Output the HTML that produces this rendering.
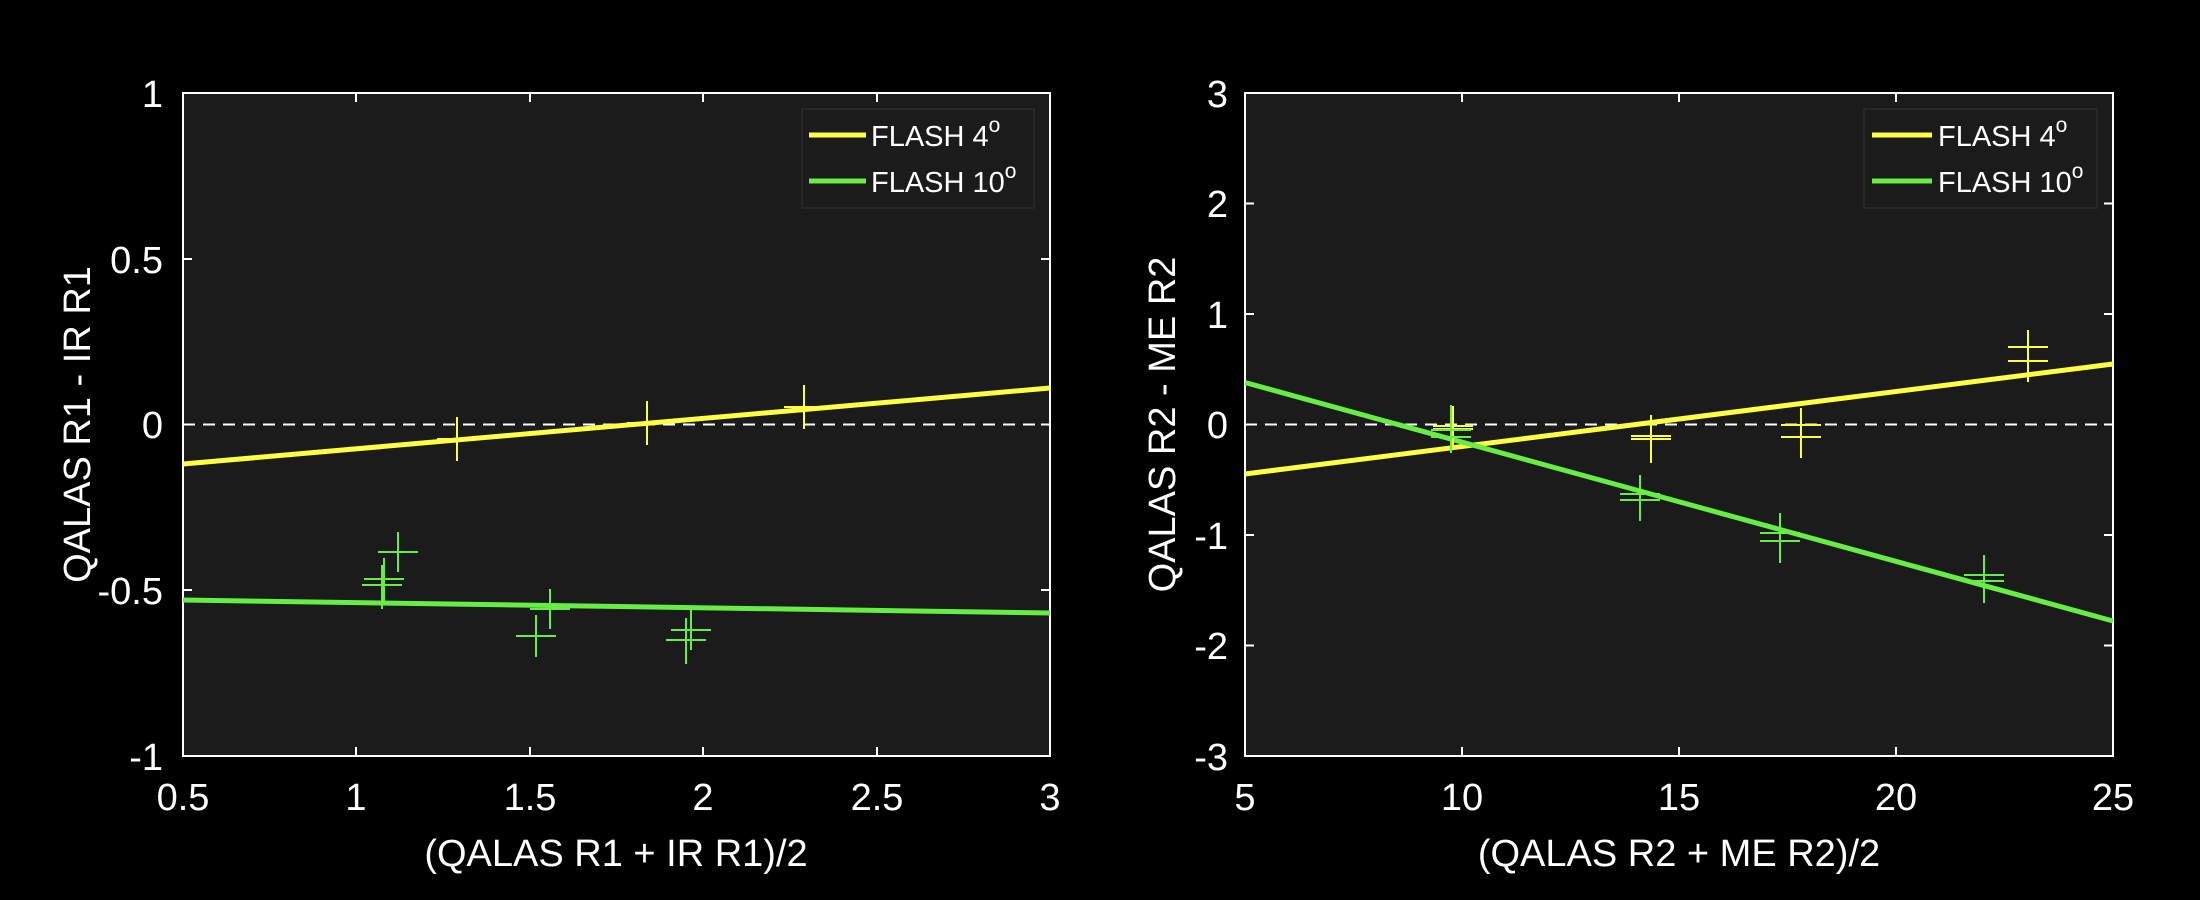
<!DOCTYPE html>
<html><head><meta charset="utf-8"><style>
html,body{margin:0;padding:0;background:#000;}
svg{display:block;}
text{font-family:"Liberation Sans",sans-serif;fill:#fff;}
</style></head><body>
<svg width="2200" height="900" viewBox="0 0 2200 900" xmlns="http://www.w3.org/2000/svg">
<rect width="2200" height="900" fill="#000"/>
<!-- LEFT AXES -->
<rect x="183" y="93" width="867" height="663" fill="#1b1b1b" stroke="#fff" stroke-width="2"/>
<g stroke="#fff" stroke-width="2">
<line x1="356" y1="756" x2="356" y2="747"/><line x1="356" y1="93" x2="356" y2="102"/>
<line x1="530" y1="756" x2="530" y2="747"/><line x1="530" y1="93" x2="530" y2="102"/>
<line x1="703" y1="756" x2="703" y2="747"/><line x1="703" y1="93" x2="703" y2="102"/>
<line x1="877" y1="756" x2="877" y2="747"/><line x1="877" y1="93" x2="877" y2="102"/>
<line x1="183" y1="259" x2="192" y2="259"/><line x1="1050" y1="259" x2="1041" y2="259"/>
<line x1="183" y1="424.5" x2="192" y2="424.5"/><line x1="1050" y1="424.5" x2="1041" y2="424.5"/>
<line x1="183" y1="590" x2="192" y2="590"/><line x1="1050" y1="590" x2="1041" y2="590"/>
</g>
<line x1="183" y1="424.5" x2="1050" y2="424.5" stroke="#fff" stroke-width="2" stroke-dasharray="12,8"/>
<line x1="183" y1="464" x2="1050" y2="388" stroke="#ffff44" stroke-width="5"/>
<line x1="183" y1="600" x2="1050" y2="613" stroke="#66ee44" stroke-width="5"/>
<g stroke="#ffff44" stroke-width="2">
<path d="M437 439h40M457 417v44M627 423h40M647 401v44M784 407h40M804 385v44"/>
</g>
<g stroke="#66ee44" stroke-width="2">
<path d="M378 552h40M398 532v40M364 579h40M384 558v44M362 585h40M382 565v44M530 609h40M550 589v40M516 636h40M536 615v42M671 630h40M691 610v40M666 640h40M686 618v46"/>
</g>
<g font-size="38" text-anchor="end">
<text x="163" y="107">1</text>
<text x="163" y="273">0.5</text>
<text x="163" y="438">0</text>
<text x="163" y="604">-0.5</text>
<text x="163" y="770">-1</text>
</g>
<g font-size="38" text-anchor="middle">
<text x="183" y="810">0.5</text><text x="356" y="810">1</text><text x="530" y="810">1.5</text>
<text x="703" y="810">2</text><text x="877" y="810">2.5</text><text x="1050" y="810">3</text>
</g>
<text x="616" y="866" font-size="38" text-anchor="middle">(QALAS R1 + IR R1)/2</text>
<text transform="translate(90,424.5) rotate(-90)" font-size="38" text-anchor="middle">QALAS R1 - IR R1</text>
<rect x="802" y="109" width="232" height="99" fill="#1b1b1b" stroke="#333" stroke-width="1"/>
<line x1="809" y1="135" x2="866" y2="135" stroke="#ffff44" stroke-width="5"/>
<line x1="809" y1="181" x2="866" y2="181" stroke="#66ee44" stroke-width="5"/>
<text x="871" y="146" font-size="29">FLASH 4<tspan dy="-14" font-size="21">o</tspan></text>
<text x="871" y="192" font-size="29">FLASH 10<tspan dy="-14" font-size="21">o</tspan></text>

<!-- RIGHT AXES -->
<rect x="1245" y="93" width="868" height="663" fill="#1b1b1b" stroke="#fff" stroke-width="2"/>
<g stroke="#fff" stroke-width="2">
<line x1="1462" y1="756" x2="1462" y2="747"/><line x1="1462" y1="93" x2="1462" y2="102"/>
<line x1="1679" y1="756" x2="1679" y2="747"/><line x1="1679" y1="93" x2="1679" y2="102"/>
<line x1="1896" y1="756" x2="1896" y2="747"/><line x1="1896" y1="93" x2="1896" y2="102"/>
<line x1="1245" y1="203.5" x2="1254" y2="203.5"/><line x1="2113" y1="203.5" x2="2104" y2="203.5"/>
<line x1="1245" y1="314" x2="1254" y2="314"/><line x1="2113" y1="314" x2="2104" y2="314"/>
<line x1="1245" y1="424.5" x2="1254" y2="424.5"/><line x1="2113" y1="424.5" x2="2104" y2="424.5"/>
<line x1="1245" y1="535" x2="1254" y2="535"/><line x1="2113" y1="535" x2="2104" y2="535"/>
<line x1="1245" y1="645.5" x2="1254" y2="645.5"/><line x1="2113" y1="645.5" x2="2104" y2="645.5"/>
</g>
<line x1="1245" y1="424.5" x2="2113" y2="424.5" stroke="#fff" stroke-width="2" stroke-dasharray="12,8"/>
<line x1="1245" y1="474" x2="2113" y2="364" stroke="#ffff44" stroke-width="5"/>
<line x1="1245" y1="382.5" x2="2113" y2="621" stroke="#66ee44" stroke-width="5"/>
<g stroke="#ffff44" stroke-width="2">
<path d="M1433 426h40M1433 429h40M1453 406v40M1631 436h40M1631 439h40M1651 415v48M1781 425h40M1781 437h40M1801 408v50M2008 347h40M2008 361h40M2028 330v52"/>
</g>
<g stroke="#66ee44" stroke-width="2">
<path d="M1431 430h40M1431 437h40M1451 405v48M1620 494h40M1620 500h40M1640 475v46M1760 533h40M1760 541h40M1780 513v50M1964 575h40M1964 581h40M1984 555v48"/>
</g>
<g font-size="38" text-anchor="end">
<text x="1228" y="107">3</text><text x="1228" y="217">2</text><text x="1228" y="328">1</text>
<text x="1228" y="438">0</text><text x="1228" y="549">-1</text><text x="1228" y="659">-2</text>
<text x="1228" y="770">-3</text>
</g>
<g font-size="38" text-anchor="middle">
<text x="1245" y="810">5</text><text x="1462" y="810">10</text><text x="1679" y="810">15</text>
<text x="1896" y="810">20</text><text x="2113" y="810">25</text>
</g>
<text x="1679" y="866" font-size="38" text-anchor="middle">(QALAS R2 + ME R2)/2</text>
<text transform="translate(1175,424.5) rotate(-90)" font-size="38" text-anchor="middle">QALAS R2 - ME R2</text>
<rect x="1864" y="109" width="233" height="99" fill="#1b1b1b" stroke="#333" stroke-width="1"/>
<line x1="1872" y1="135" x2="1932" y2="135" stroke="#ffff44" stroke-width="5"/>
<line x1="1872" y1="181" x2="1932" y2="181" stroke="#66ee44" stroke-width="5"/>
<text x="1938" y="146" font-size="29">FLASH 4<tspan dy="-14" font-size="21">o</tspan></text>
<text x="1938" y="192" font-size="29">FLASH 10<tspan dy="-14" font-size="21">o</tspan></text>
</svg>
</body></html>
